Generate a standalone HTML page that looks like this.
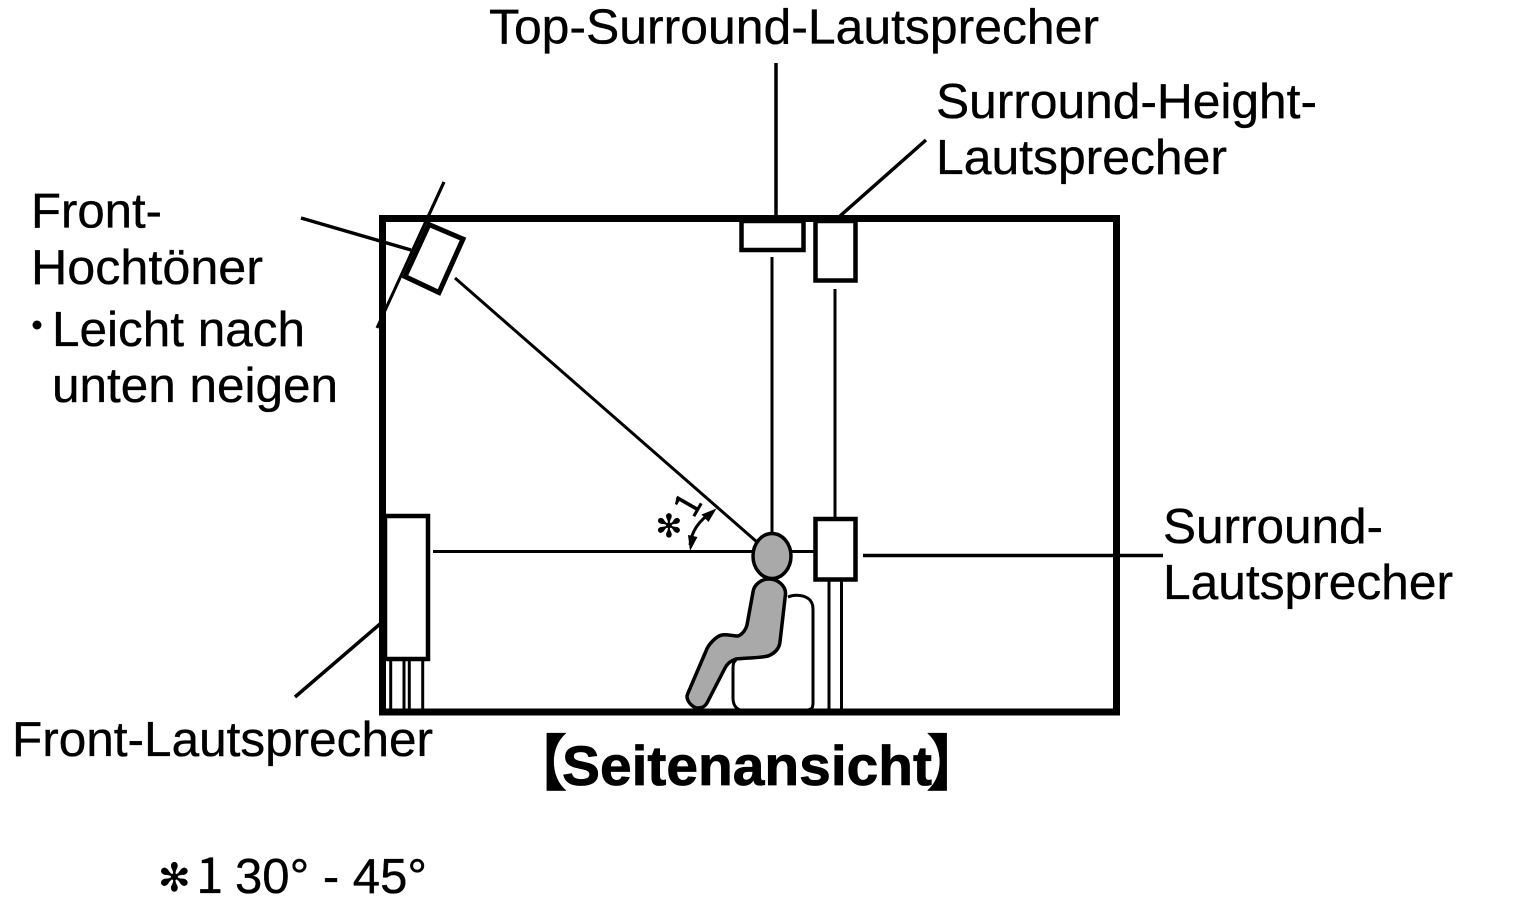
<!DOCTYPE html>
<html>
<head>
<meta charset="utf-8">
<style>
html,body{margin:0;padding:0;background:#fff;width:1525px;height:923px;overflow:hidden}
svg{display:block}
text{font-family:"Liberation Sans","Noto Sans CJK JP",sans-serif;font-size:49.5px;fill:#000;stroke:#000;stroke-width:.35px}
</style>
</head>
<body>
<svg width="1525" height="923" viewBox="0 0 1525 923" xmlns="http://www.w3.org/2000/svg">
<g fill="none" stroke="#000" stroke-width="3">
  <line x1="433" y1="551.5" x2="755" y2="551.5"/>
  <line x1="455" y1="278" x2="757" y2="542"/>
  <line x1="772" y1="257" x2="772" y2="535"/>
  <line x1="835" y1="289" x2="835" y2="518"/>
  <line x1="790" y1="551.5" x2="815" y2="551.5"/>
  <line x1="444" y1="182" x2="377" y2="328"/>
  <line x1="829" y1="580" x2="829" y2="710"/>
  <line x1="841.5" y1="580" x2="841.5" y2="710"/>
  <line x1="390.7" y1="660" x2="390.7" y2="710"/>
  <line x1="404" y1="660" x2="404" y2="710"/>
  <line x1="409.3" y1="660" x2="409.3" y2="710"/>
  <line x1="422.7" y1="660" x2="422.7" y2="710"/>
</g>
<g fill="none" stroke="#000" stroke-width="3.5">
  <line x1="776" y1="63" x2="776" y2="218"/>
  <line x1="926" y1="140" x2="840" y2="216"/>
  <line x1="863" y1="555.5" x2="1163" y2="555.5"/>
  <line x1="380" y1="624" x2="295" y2="697"/>
  <line x1="301" y1="218" x2="411" y2="250"/>
</g>
<rect x="382.5" y="218.5" width="734" height="493.5" fill="none" stroke="#000" stroke-width="7"/>
<g fill="#fff" stroke="#000" stroke-width="4.5">
  <rect x="741.5" y="221" width="62" height="29"/>
  <rect x="815.5" y="221" width="40" height="59.5"/>
  <rect x="815.5" y="519" width="40" height="60.5"/>
  <rect x="385" y="516" width="43" height="143"/>
</g>
<polygon points="429,224.5 463,239 439,292.5 405,276.5" fill="#fff" stroke="#000" stroke-width="5"/>
<line x1="444" y1="182" x2="410" y2="256" stroke="#000" stroke-width="3"/>
<!-- chair -->
<path d="M788,597 C795,594 805,595 810,600 C813,604 813,606 813,612 L813,702 C813,708 812,709 808,710 L740,710 C735,708 733,704 733,698 L733,670 C733,662 734,662 736,660" fill="#fff" stroke="#000" stroke-width="3"/>
<path d="M778,648 C775,652 770,655 765,657" fill="none" stroke="#000" stroke-width="2.5"/>
<!-- person -->
<path d="M753,592 C754,584 762,579 769,579 C778,579 786,586 785.5,594 L780,642 C779,650 773,654 768,656 C760,658 745,658 736,659 C730,661 727,664 725,668 L707,703 C704,708 700,708 696,708 C692,706 687,702 687,696 C688,692 690,689 691,686 L706,651 C708,645 716,636 722,635 C726,634 733,636 738,636 C743,634 746,629 747,625 Z" fill="#a9a9a9" stroke="#000" stroke-width="3.5" stroke-linejoin="round"/>
<ellipse cx="772" cy="556" rx="19" ry="22.5" fill="#a9a9a9" stroke="#000" stroke-width="3.5"/>
<!-- angle arc -->
<path d="M690,545 Q692,525 712,512" fill="none" stroke="#000" stroke-width="3"/>
<polygon points="690,551 688,535 697.5,537" fill="#000"/>
<polygon points="716.5,508.5 701.5,514.5 708.5,522" fill="#000"/>
<text x="655.5" y="537" style="font-family:'DejaVu Sans',sans-serif;font-size:32px">✻</text>
<text transform="translate(699,510) rotate(-60)" x="-11" y="0" style="font-family:'Noto Sans CJK JP',sans-serif;font-size:36px">1</text>
<!-- labels -->
<text x="489" y="43.5" textLength="610" lengthAdjust="spacingAndGlyphs">Top-Surround-Lautsprecher</text>
<text x="936" y="118" textLength="381" lengthAdjust="spacingAndGlyphs">Surround-Height-</text>
<text x="936" y="174" textLength="291" lengthAdjust="spacingAndGlyphs">Lautsprecher</text>
<text x="31" y="227.5" textLength="131" lengthAdjust="spacingAndGlyphs">Front-</text>
<text x="31" y="284" textLength="232" lengthAdjust="spacingAndGlyphs">Hochtöner</text>
<circle cx="37" cy="325" r="4.5" fill="#000"/>
<text x="52" y="346" textLength="253" lengthAdjust="spacingAndGlyphs">Leicht nach</text>
<text x="52" y="402" textLength="286" lengthAdjust="spacingAndGlyphs">unten neigen</text>
<text x="1163" y="543" textLength="220" lengthAdjust="spacingAndGlyphs">Surround-</text>
<text x="1163" y="599" textLength="290" lengthAdjust="spacingAndGlyphs">Lautsprecher</text>
<text x="12" y="756" textLength="421" lengthAdjust="spacingAndGlyphs">Front-Lautsprecher</text>
<text x="562" y="785" textLength="370" lengthAdjust="spacingAndGlyphs" style="font-weight:bold;font-size:56px;stroke-width:.8px">Seitenansicht</text>
<text x="506.5" y="785" style="font-weight:bold;font-size:61px">【</text>
<text x="926" y="785" style="font-weight:bold;font-size:61px">】</text>
<text x="158" y="891" style="font-family:'DejaVu Sans',sans-serif;font-size:39px">✻</text>
<text x="196" y="893" style="font-family:'Noto Sans CJK JP',sans-serif;font-size:49.5px">1</text>
<text x="235" y="893" textLength="192" lengthAdjust="spacingAndGlyphs">30° - 45°</text>
</svg>
</body>
</html>
